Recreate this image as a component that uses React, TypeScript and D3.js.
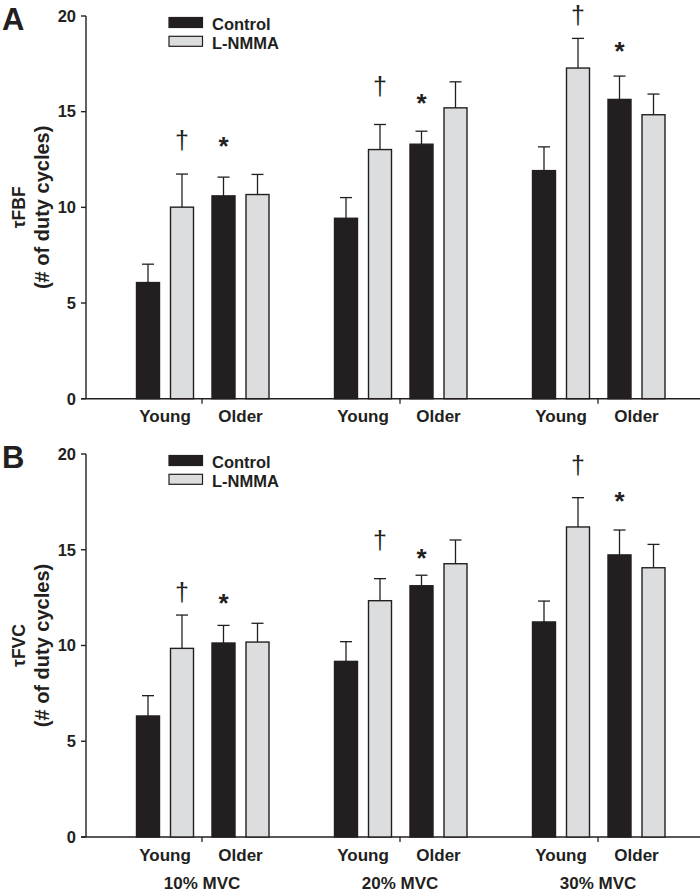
import React from "react";
import * as d3 from "d3";

const groups = ["10% MVC", "20% MVC", "30% MVC"];
const ages = ["Young", "Older"];
const seriesNames = ["Control", "L-NMMA"];
const yTicks = [0, 5, 10, 15, 20];

// Panel A: tauFBF (means and SEM), index = group
const fbfControlYoung = [6.07, 9.43, 11.92];
const fbfControlOlder = [10.6, 13.3, 15.64];
const fbfLnmmaYoung = [10.01, 13.02, 17.28];
const fbfLnmmaOlder = [10.67, 15.2, 14.84];
const fbfControlYoungErr = [0.96, 1.08, 1.24];
const fbfControlOlderErr = [0.98, 0.68, 1.22];
const fbfLnmmaYoungErr = [1.73, 1.31, 1.55];
const fbfLnmmaOlderErr = [1.05, 1.36, 1.08];
const fbfDagger = [13.52, 16.38, 20.1];
const fbfStar = [13.52, 15.78, 18.48];

// Panel B: tauFVC
const fvcControlYoung = [6.32, 9.17, 11.23];
const fvcControlOlder = [10.13, 13.12, 14.73];
const fvcLnmmaYoung = [9.85, 12.34, 16.19];
const fvcLnmmaOlder = [10.18, 14.27, 14.06];
const fvcControlYoungErr = [1.06, 1.03, 1.09];
const fvcControlOlderErr = [0.92, 0.55, 1.3];
const fvcLnmmaYoungErr = [1.74, 1.15, 1.53];
const fvcLnmmaOlderErr = [0.98, 1.24, 1.22];
const fvcDagger = [12.81, 15.52, 19.43];
const fvcStar = [12.55, 14.89, 17.86];

const INK = "#231f20";
const LIGHT = "#dcdddf";
const FONT = "'Liberation Sans', Arial, Helvetica, sans-serif";

const xGroup = d3.scalePoint<string>().domain(groups).range([202, 598]);
const xAge = d3.scalePoint<string>().domain(ages).range([-37, 38.5]);
const xSeries = d3.scalePoint<string>().domain(seriesNames).range([-17, 17]);
const barW = 23;
const fills = d3.scaleOrdinal<string, string>().domain(seriesNames).range([INK, LIGHT]);

type PanelProps = {
  letter: string;
  title: string;
  top: number;
  bottom: number;
  means: number[][][]; // [series][age][group]
  errs: number[][][];
  dagger: number[];
  star: number[];
  showGroups: boolean;
};

function Panel({ letter, title, top, bottom, means, errs, dagger, star, showGroups }: PanelProps) {
  const y = d3.scaleLinear().domain([0, 20]).range([bottom, top]);
  const axisX = 86;
  const bars: any[] = [];
  groups.forEach((g, gi) => {
    ages.forEach((a, ai) => {
      seriesNames.forEach((s, si) => {
        const v = means[si][ai][gi];
        const e = errs[si][ai][gi];
        const cx = (xGroup(g) as number) + (xAge(a) as number) + (xSeries(s) as number);
        bars.push(
          <g key={`${g}-${a}-${s}`}>
            <line x1={cx} x2={cx} y1={y(v)} y2={y(v + e)} stroke={INK} strokeWidth={1.3} />
            <line x1={cx - 6} x2={cx + 6} y1={y(v + e)} y2={y(v + e)} stroke={INK} strokeWidth={1.3} />
            <rect x={cx - barW / 2} y={y(v)} width={barW} height={y(0) - y(v)} fill={fills(s)} stroke={INK} strokeWidth={1.4} />
          </g>
        );
      });
    });
  });
  const midY = (top + bottom) / 2;
  return (
    <g>
      <text x={2} y={top + 13.5} fontSize={31} fontWeight="bold" fill={INK} fontFamily={FONT}>{letter}</text>
      {/* y axis */}
      <line x1={axisX} x2={axisX} y1={y(20)} y2={y(0)} stroke={INK} strokeWidth={1.4} />
      {yTicks.map((t) => (
        <g key={t}>
          <line x1={axisX - 5} x2={axisX} y1={y(t)} y2={y(t)} stroke={INK} strokeWidth={1.4} />
          <text x={76} y={y(t) + 5.8} textAnchor="end" fontSize={16.5} fontWeight="bold" fill={INK} fontFamily={FONT}>{t}</text>
        </g>
      ))}
      {/* x axis */}
      <line x1={axisX - 5} x2={700} y1={y(0)} y2={y(0)} stroke={INK} strokeWidth={1.4} />
      {groups.map((g) => (
        <line key={g} x1={xGroup(g) as number} x2={xGroup(g) as number} y1={y(0)} y2={y(0) + 5} stroke={INK} strokeWidth={1.3} />
      ))}
      {bars}
      {/* category labels */}
      {groups.map((g) =>
        ages.map((a) => (
          <text key={g + a} x={(xGroup(g) as number) + (xAge(a) as number)} y={y(0) + 23.5} textAnchor="middle" fontSize={17} fontWeight="bold" fill={INK} fontFamily={FONT}>{a}</text>
        ))
      )}
      {showGroups && groups.map((g) => (
        <text key={g} x={xGroup(g) as number} y={y(0) + 51.5} textAnchor="middle" fontSize={17} fontWeight="bold" fill={INK} fontFamily={FONT}>{g}</text>
      ))}
      {/* significance marks */}
      {groups.map((g, gi) => {
        const dx = (xGroup(g) as number) + (xAge("Young") as number) + (xSeries("L-NMMA") as number);
        const sx = (xGroup(g) as number) + (xAge("Older") as number) + (xSeries("Control") as number);
        return (
          <g key={g}>
            <text x={dx} y={y(dagger[gi]) + 9.5} textAnchor="middle" fontSize={25} fill={INK} fontFamily={FONT}>†</text>
            <text x={sx} y={y(star[gi]) + 15} textAnchor="middle" fontSize={26} fontWeight="bold" fill={INK} fontFamily={FONT}>*</text>
          </g>
        );
      })}
      {/* legend */}
      {seriesNames.map((s, i) => (
        <g key={s}>
          <rect x={169} y={top + 1.5 + i * 18.8} width={33.5} height={10} fill={fills(s)} stroke={INK} strokeWidth={1.2} />
          <text x={212} y={top + 13.5 + i * 19} fontSize={16.5} fontWeight="bold" fill={INK} fontFamily={FONT}>{s}</text>
        </g>
      ))}
      {/* y title */}
      <text transform={`translate(25,${midY}) rotate(-90)`} textAnchor="middle" fontSize={17.5} fontWeight="bold" fill={INK} fontFamily={FONT}>{title}</text>
      <text transform={`translate(49,${midY}) rotate(-90)`} textAnchor="middle" fontSize={20} fontWeight="bold" fill={INK} fontFamily={FONT}>(# of duty cycles)</text>
    </g>
  );
}

export default function App() {
  return (
    <svg width={700} height={896} style={{ position: "absolute", left: 0, top: 0, background: "#fff", display: "block" }}>
      <rect width={700} height={896} fill="#fff" />
      <Panel
        letter="A"
        title="τFBF"
        top={16}
        bottom={398.7}
        means={[[fbfControlYoung, fbfControlOlder], [fbfLnmmaYoung, fbfLnmmaOlder]]}
        errs={[[fbfControlYoungErr, fbfControlOlderErr], [fbfLnmmaYoungErr, fbfLnmmaOlderErr]]}
        dagger={fbfDagger}
        star={fbfStar}
        showGroups={false}
      />
      <Panel
        letter="B"
        title="τFVC"
        top={454}
        bottom={837}
        means={[[fvcControlYoung, fvcControlOlder], [fvcLnmmaYoung, fvcLnmmaOlder]]}
        errs={[[fvcControlYoungErr, fvcControlOlderErr], [fvcLnmmaYoungErr, fvcLnmmaOlderErr]]}
        dagger={fvcDagger}
        star={fvcStar}
        showGroups={true}
      />
    </svg>
  );
}
